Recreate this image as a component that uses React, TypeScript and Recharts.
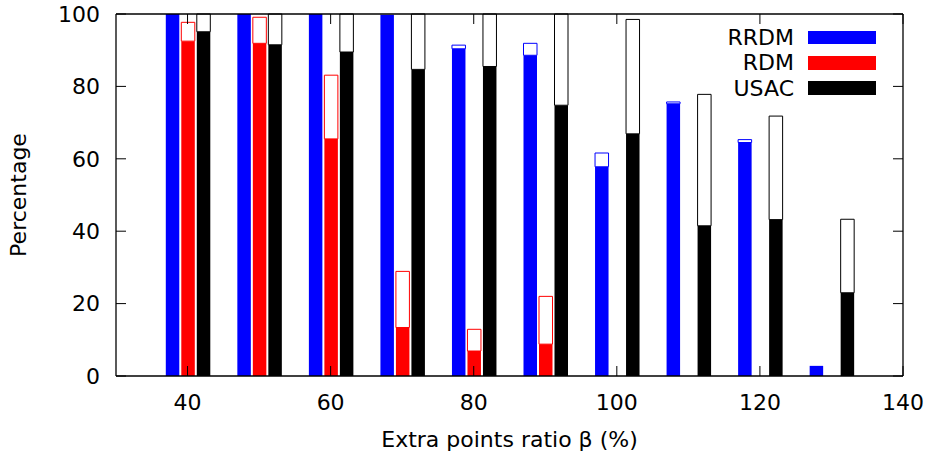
import { Bar, ComposedChart, Line, XAxis, YAxis } from "recharts";

// extra points ratio β (%) per group
const betas = [40, 50, 60, 70, 80, 90, 100, 110, 120, 130];

// filled part = lower value, outlined part reaches the upper value
const rrdmLow = [100, 100, 100, 99.8, 90.4, 88.6, 57.8, 75.2, 64.5, 2.8];
const rrdmHigh = [100, 100, 100, 99.8, 91.4, 91.9, 61.6, 75.7, 65.3, 2.8];
const rdmLow = [92.5, 91.9, 65.5, 13.4, 6.9, 8.8, 0, 0, 0, 0];
const rdmHigh = [97.7, 99.1, 83.1, 28.9, 12.9, 22.0, 0, 0, 0, 0];
const usacLow = [95.1, 91.5, 89.5, 84.7, 85.5, 74.8, 66.9, 41.5, 43.2, 23.0];
const usacHigh = [100, 100, 100, 100, 100, 100, 98.5, 77.8, 71.8, 43.3];

const seriesNames = ["RRDM", "RDM", "USAC"];
const seriesColors = ["#0000ff", "#ff0000", "#000000"];

const xTicks = [40, 60, 80, 100, 120, 140];
const yTicks = [0, 20, 40, 60, 80, 100];

const chartData = betas.map((beta, i) => ({
  beta,
  rrdmLow: rrdmLow[i],
  rrdmExtra: rrdmHigh[i] - rrdmLow[i],
  rdmLow: rdmLow[i],
  rdmExtra: rdmHigh[i] - rdmLow[i],
  usacLow: usacLow[i],
  usacExtra: usacHigh[i] - usacLow[i],
}));

const FONT = "'DejaVu Sans', sans-serif";
const tickStyle = { fill: "#000", fontSize: 22, fontFamily: FONT };
const frameLine = { stroke: "#000", strokeWidth: 1.3 };
const tickLineStyle = { stroke: "#000", strokeWidth: 1 };

const PercentageTitle = (props: any) => {
  const vb = props.viewBox ?? { x: 0, y: 14, width: 116, height: 362 };
  const cx = vb.x + 26;
  const cy = vb.y + vb.height / 2;
  return (
    <text
      x={cx}
      y={cy}
      transform={`rotate(-90 ${cx} ${cy})`}
      textAnchor="middle"
      fontSize={22}
      fontFamily={FONT}
      fill="#000"
    >
      Percentage
    </text>
  );
};

const stackKeys = ["rrdm", "rdm", "usac"];

export default function App() {
  return (
    <div
      style={{
        position: "absolute",
        left: 0,
        top: 0,
        width: 928,
        height: 456,
        background: "#fff",
        fontFamily: FONT,
      }}
    >
      <ComposedChart
        width={928}
        height={456}
        data={chartData}
        margin={{ top: 13, right: 24, left: 0, bottom: 0 }}
        barSize={13.5}
        barGap={2}
      >
        <XAxis
          xAxisId="num"
          dataKey="beta"
          type="number"
          domain={[30, 140]}
          ticks={xTicks}
          interval={0}
          height={80}
          tickSize={-10}
          tickMargin={28}
          axisLine={frameLine}
          tickLine={tickLineStyle}
          tick={tickStyle}
          label={{
            value: "Extra points ratio β (%)",
            position: "insideBottom",
            offset: 9,
            fill: "#000",
            fontSize: 22,
            fontFamily: FONT,
          }}
        />
        <XAxis
          xAxisId="cat"
          dataKey="beta"
          type="category"
          hide
          height={0}
          padding={{ left: 35.8, right: 35.8 }}
        />
        <XAxis
          xAxisId="top"
          dataKey="beta"
          orientation="top"
          type="number"
          domain={[30, 140]}
          ticks={xTicks}
          interval={0}
          height={1}
          tickSize={-10}
          axisLine={frameLine}
          tickLine={tickLineStyle}
          tickFormatter={() => ""}
        />
        <YAxis
          yAxisId="left"
          type="number"
          domain={[0, 100]}
          ticks={yTicks}
          interval={0}
          width={116}
          tickSize={-10}
          tickMargin={26}
          axisLine={frameLine}
          tickLine={tickLineStyle}
          tick={tickStyle}
          label={(p: any) => <PercentageTitle {...p} />}
        />
        <YAxis
          yAxisId="right"
          orientation="right"
          type="number"
          domain={[0, 100]}
          ticks={yTicks}
          interval={0}
          width={1}
          tickSize={-10}
          axisLine={frameLine}
          tickLine={tickLineStyle}
          tickFormatter={() => ""}
        />
        {/* invisible helpers so the numeric frame axes get a scale */}
        <Line
          xAxisId="num"
          yAxisId="right"
          dataKey="usacLow"
          stroke="none"
          dot={false}
          activeDot={false}
          isAnimationActive={false}
        />
        <Line
          xAxisId="top"
          yAxisId="right"
          dataKey="usacLow"
          stroke="none"
          dot={false}
          activeDot={false}
          isAnimationActive={false}
        />
        {stackKeys.map((key, i) => [
          <Bar
            key={`${key}-low`}
            xAxisId="cat"
            yAxisId="left"
            stackId={key}
            dataKey={`${key}Low`}
            name={seriesNames[i]}
            fill={seriesColors[i]}
            isAnimationActive={false}
          />,
          <Bar
            key={`${key}-extra`}
            xAxisId="cat"
            yAxisId="left"
            stackId={key}
            dataKey={`${key}Extra`}
            name={`${seriesNames[i]} upper`}
            fill="#fff"
            stroke={seriesColors[i]}
            strokeWidth={1}
            isAnimationActive={false}
          />,
        ])}
      </ComposedChart>
      <div style={{ position: "absolute", left: 700, top: 25, width: 176 }}>
        {seriesNames.map((name, i) => (
          <div
            key={name}
            style={{
              display: "flex",
              alignItems: "center",
              justifyContent: "flex-end",
              height: 25.3,
              fontSize: 22,
              lineHeight: "25.3px",
              color: "#000",
            }}
          >
            <span>{name}</span>
            <span
              style={{
                display: "inline-block",
                width: 68,
                height: 13.6,
                marginLeft: 14,
                background: seriesColors[i],
              }}
            />
          </div>
        ))}
      </div>
    </div>
  );
}
